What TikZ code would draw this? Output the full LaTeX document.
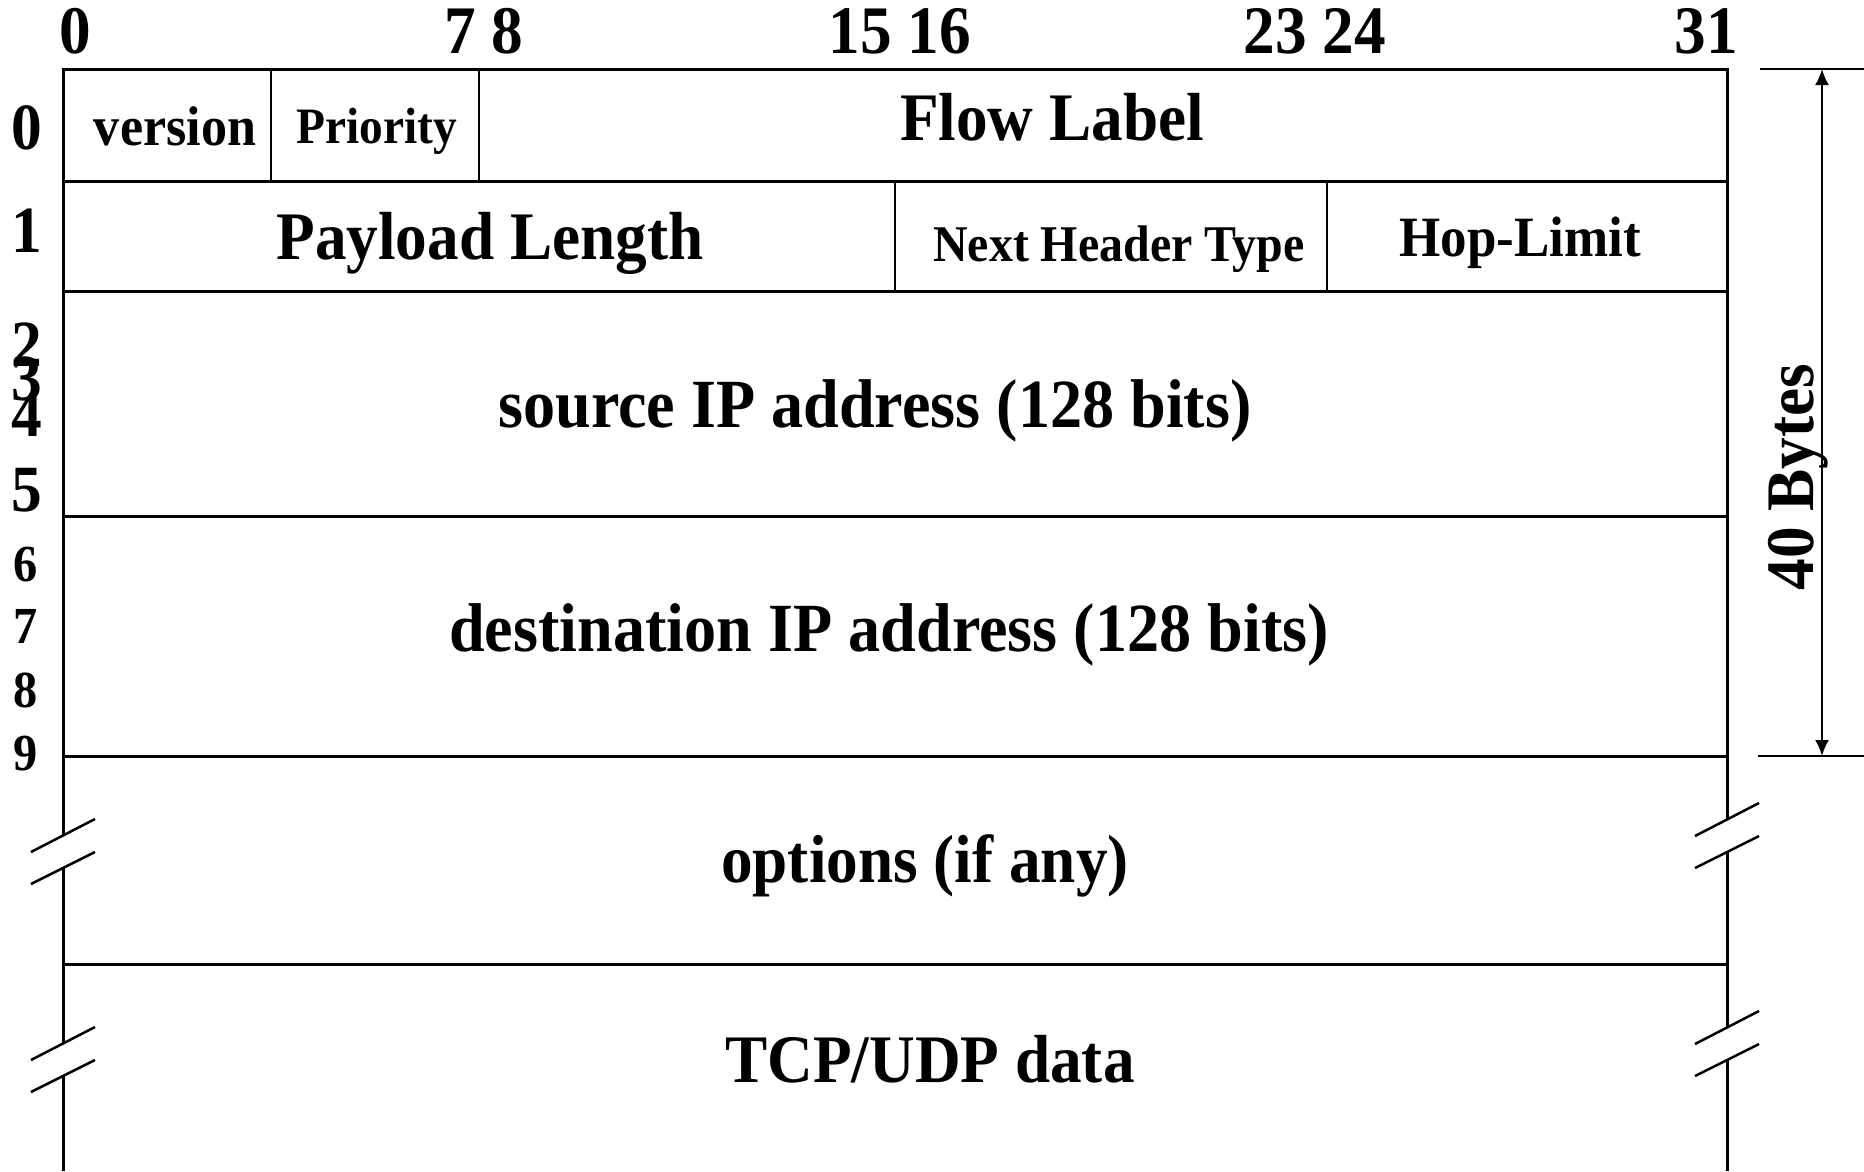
\documentclass[tikz,border=0pt]{standalone}
\usepackage{fontspec}
\setmainfont[FakeStretch=0.93]{Liberation Serif}
\usetikzlibrary{arrows.meta}
\newcommand{\fs}[1]{\fontsize{#1}{#1}\selectfont\bfseries}
\begin{document}
\begin{tikzpicture}[x=1pt,y=1pt,
  frame/.style={line width=3pt},
  divider/.style={line width=2.5pt},
  slash/.style={line width=2.5pt},
  txt/.style={anchor=base, inner sep=0pt, text=black},
  big/.style={txt, font=\fs{68}},
  rownum/.style={txt, font=\fs{66}},
  rowsmall/.style={txt, font=\fs{52}},
  dim/.style={line width=2.2pt, {Latex[length=16pt,width=14pt]}-{Latex[length=16pt,width=14pt]}}]
\useasboundingbox (0,0) rectangle (1864,-1171);

% frame and rows
\draw[frame] (63,-1171) -- (63,-69) -- (1727,-69) -- (1727,-1171);
\foreach \yy in {181,291,516,756,964}
  \draw[frame] (63,-\yy) -- (1727,-\yy);
\draw[divider] (271,-69) -- (271,-181);
\draw[divider] (479,-69) -- (479,-181);
\draw[divider] (895,-181) -- (895,-291);
\draw[divider] (1327,-181) -- (1327,-291);

% break marks
\foreach \cx/\cy in {63/852, 63/1060, 1727/836, 1727/1044}{
  \fill[white] (\cx-32,-\cy) -- (\cx+32,-\cy+33) -- (\cx+32,-\cy-1) -- (\cx-32,-\cy-32) -- cycle;
  \draw[slash] (\cx-32,-\cy) -- (\cx+32,-\cy+33);
  \draw[slash] (\cx-32,-\cy-32) -- (\cx+32,-\cy);
}

% bit numbers
\node[big] (b0)  at (75,-53)   {0};
\node[big] (b7)  at (484,-53)  {7 8};
\node[big] (b15) at (900,-53)  {15 16};
\node[big] (b23) at (1315,-53) {23 24};
\node[big] (b31) at (1706,-53) {31};

% row numbers
\node[rownum] (r0) at (27,-149) {0};
\node[rownum] (r1) at (27,-252) {1};
\node[rownum] (r2) at (27,-366) {2};
\node[rownum] (r3) at (27,-400) {3};
\node[rownum] (r4) at (27,-436) {4};
\node[rownum] (r5) at (27,-511) {5};
\node[rowsmall] (r6) at (26,-581) {6};
\node[rowsmall] (r7) at (26,-643) {7};
\node[rowsmall] (r8) at (26,-707) {8};
\node[rowsmall] (r9) at (26,-770) {9};

% fields
\node[txt, font=\fs{56}] (version)  at (175,-145) {version};
\node[txt, font=\fs{51}] (priority) at (377,-143) {Priority};
\node[big] (flow)    at (1052,-140) {Flow Label};
\node[big] (payload) at (490,-259)  {Payload Length};
\node[txt, font=\fs{51.5}] (next) at (1119,-261) {Next Header Type};
\node[txt, font=\fs{57}] (hop) at (1520,-256) {Hop-Limit};
\node[txt, font=\fs{69}] (src) at (875,-427) {source IP address (128 bits)};
\node[txt, font=\fs{69}] (dst) at (889,-651) {destination IP address (128 bits)};
\node[big] (opt) at (925,-882)  {options (if any)};
\node[big] (tcp) at (930,-1082) {TCP/UDP data};

% 40 bytes dimension
\draw[divider] (1760,-69) -- (1864,-69);
\draw[divider] (1758,-756) -- (1864,-756);
\coordinate (dtop) at (1822,-69);
\coordinate (dbot) at (1822,-756);
\draw[dim] (dtop) -- (dbot);
\node[big, rotate=90] (bytes) at (1813,-477) {40 Bytes};
\end{tikzpicture}
\end{document}
